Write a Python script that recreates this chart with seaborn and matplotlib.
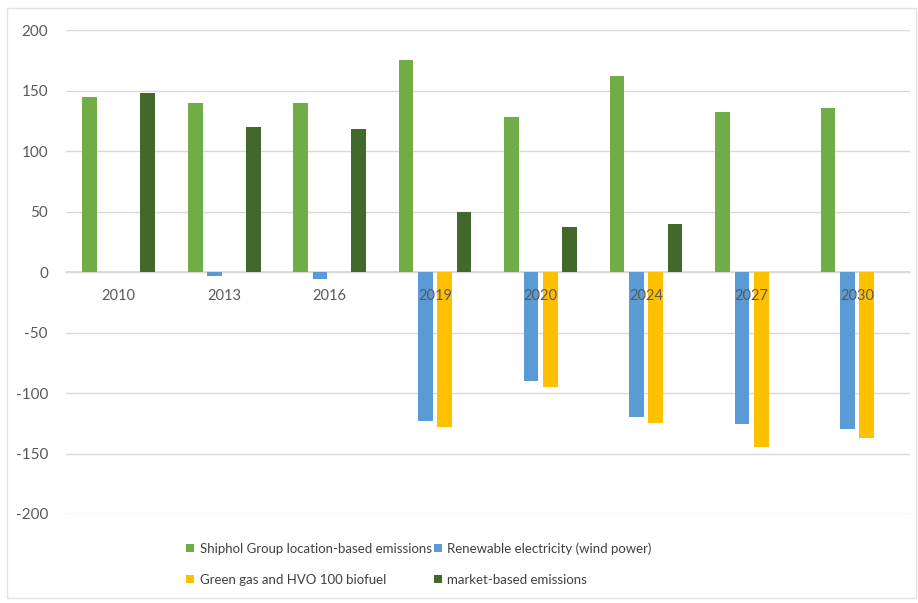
import matplotlib
matplotlib.use("Agg")
import matplotlib.pyplot as plt
from matplotlib.patches import Patch, Rectangle
import seaborn as sns
import pandas as pd

years = ["2010", "2013", "2016", "2019", "2020", "2024", "2027", "2030"]
location_based = [145, 140, 140, 175, 128, 162, 132, 136]
wind_power = [0, -3, -6, -123, -90, -120, -126, -130]
green_gas_hvo = [0, 0, 0, -128, -95, -125, -145, -137]
market_based = [148, 120, 118, 50, 37, 40, 0, 0]

series_names = [
    "Shiphol Group location-based emissions",
    "Renewable electricity (wind power)",
    "Green gas and HVO 100 biofuel",
    "market-based emissions",
]
series_colors = ["#70AD47", "#5B9BD5", "#FFC000", "#43682B"]
y_ticks = [-200, -150, -100, -50, 0, 50, 100, 150, 200]

rows = []
for name, vals in zip(series_names,
                      [location_based, wind_power, green_gas_hvo, market_based]):
    for yr, v in zip(years, vals):
        rows.append({"year": yr, "series": name, "value": v})
df = pd.DataFrame(rows)

sns.set_theme(style="white")
plt.rcParams["font.family"] = ["Lato", "DejaVu Sans"]

fig = plt.figure(figsize=(9.18, 6.03), dpi=100)
ax = fig.add_axes([0.0719, 0.1476, 0.9191, 0.8024])

sns.barplot(data=df, x="year", y="value", hue="series", order=years,
            hue_order=series_names, palette=series_colors, width=0.733,
            gap=0.24, saturation=1, legend=False, ax=ax, linewidth=0)

ax.set_ylim(-200, 200)
ax.set_xlim(-0.5, len(years) - 0.5)
ax.set_yticks(y_ticks)
ax.set_yticklabels([str(t) for t in y_ticks])
ax.yaxis.grid(True, color="#d9d9d9", linewidth=1)
ax.set_axisbelow(True)
ax.xaxis.set_zorder(4)

for side in ["left", "right", "top"]:
    ax.spines[side].set_visible(False)
ax.spines["bottom"].set_position(("data", 0))
ax.spines["bottom"].set_color("#d9d9d9")
ax.spines["bottom"].set_zorder(0.6)

ax.set_xlabel("")
ax.set_ylabel("")
ax.tick_params(axis="x", length=0, pad=12, labelsize=10.5, labelcolor="#595959")
ax.tick_params(axis="y", length=0, pad=13, labelsize=11, labelcolor="#595959")

handles = [Patch(facecolor=c, edgecolor="none") for c in series_colors]
order = [0, 2, 1, 3]
fig.legend([handles[i] for i in order], [series_names[i] for i in order],
           ncol=2, loc="upper left", bbox_to_anchor=(0.203, 0.101),
           frameon=False, fontsize=9.5, handlelength=0.6, handleheight=0.6,
           handletextpad=0.4, columnspacing=0.2, labelspacing=1.45,
           labelcolor="#404040", borderaxespad=0, borderpad=0)

fig.patches.append(Rectangle((7 / 918, 5 / 603), 909 / 918, 590 / 603,
                             transform=fig.transFigure, fill=False,
                             edgecolor="#e3e3e3", linewidth=1))

fig.savefig("out.png", dpi=100)
